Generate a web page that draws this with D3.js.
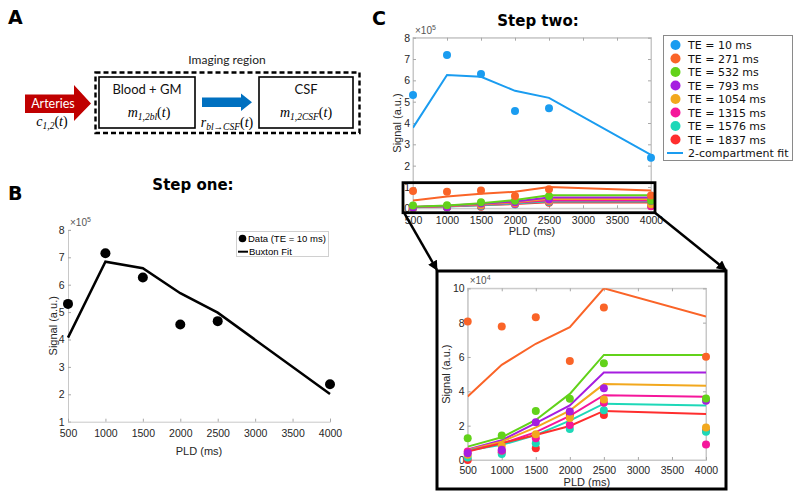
<!DOCTYPE html>
<html><head><meta charset="utf-8">
<script src="https://cdn.jsdelivr.net/npm/d3@7/dist/d3.min.js"></script>
<style>body{margin:0;background:#fff} svg{display:block}</style>
</head><body>
<svg id="c" width="800" height="499"></svg>
<script>
// ---------- DATA ----------
const pld = [500, 1000, 1500, 2000, 2500, 4000];
const xTickValues = [500, 1000, 1500, 2000, 2500, 3000, 3500, 4000];

// Step one (units of 1e5)
const stepOneTicksY = [1, 2, 3, 4, 5, 6, 7, 8];
const stepOneData = [5.30, 7.15, 6.26, 4.55, 4.67, 2.37];
const stepOneFit  = [4.07, 6.84, 6.60, 5.69, 4.98, 2.01];
const stepOneLegend = ["Data (TE = 10 ms)", "Buxton Fit"];

// Step two (units of 1e4)
const teLabels = ["TE = 10 ms", "TE = 271 ms", "TE = 532 ms", "TE = 793 ms",
                  "TE = 1054 ms", "TE = 1315 ms", "TE = 1576 ms", "TE = 1837 ms"];
const fitLabel = "2-compartment fit";
const te10Data   = [53.1, 71.9, 63.0, 45.6, 46.9, 23.7];
const te10Fit    = [37.8, 62.5, 61.7, 55.1, 51.8, 25.0];
const te271Data  = [8.07, 7.77, 8.32, 5.77, 8.88, 6.02];
const te271Fit   = [3.70, 5.54, 6.77, 7.74, 10.0, 8.36];
const te532Data  = [1.26, 1.42, 2.86, 3.56, 5.64, 3.58];
const te532Fit   = [0.78, 1.32, 2.33, 3.85, 6.12, 6.12];
const te793Data  = [0.40, 0.60, 2.20, 2.82, 4.18, 3.45];
const te793Fit   = [0.62, 1.15, 2.15, 3.18, 5.10, 5.10];
const te1054Data = [0.30, 0.83, 1.50, 2.45, 3.52, 1.89];
const te1054Fit  = [0.58, 1.07, 1.90, 2.88, 4.42, 4.33];
const te1315Data = [0.49, 0.54, 1.26, 2.04, 3.34, 0.91];
const te1315Fit  = [0.55, 0.95, 1.62, 2.57, 3.77, 3.69];
const te1576Data = [0.15, 0.35, 0.97, 1.81, 2.90, 1.65];
const te1576Fit  = [0.55, 0.88, 1.45, 2.29, 3.28, 3.17];
const te1837Data = [0.00, 0.45, 0.68, 2.62, 2.62, 1.70];
const te1837Fit  = [0.50, 0.97, 1.46, 1.98, 2.86, 2.68];
const stepTwoData = [te10Data, te271Data, te532Data, te793Data, te1054Data, te1315Data, te1576Data, te1837Data];
const stepTwoFit  = [te10Fit, te271Fit, te532Fit, te793Fit, te1054Fit, te1315Fit, te1576Fit, te1837Fit];
const topTicksY  = [0, 1, 2, 3, 4, 5, 6, 7, 8];   // x1e5
const zoomTicksY = [0, 2, 4, 6, 8, 10];           // x1e4

// ---------- STYLE ----------
const teColors = ["#1a9cf0", "#fa6428", "#62d21a", "#a61ee0", "#f2a81e", "#f5169b", "#1ed8b8", "#ff2e2e"];
const FT = "'Liberation Sans', Arial, sans-serif";
const FV = "'DejaVu Sans', Verdana, sans-serif";
const FC = "Lato, 'Open Sans', sans-serif";
const FM = "'Liberation Serif', 'DejaVu Serif', serif";
const axisGray = "#c8c8c8", textGray = "#262626";

const svg = d3.select("#c");

function panelLetter(t, x, y) {
  svg.append("text").text(t).attr("x", x).attr("y", y)
    .attr("font-family", FV).attr("font-weight", "bold").attr("font-size", 19).attr("fill", "#000");
}
function title(t, x, y) {
  svg.append("text").text(t).attr("x", x).attr("y", y).attr("text-anchor", "middle")
    .attr("font-family", FV).attr("font-weight", "bold").attr("font-size", 15).attr("fill", "#000");
}
function mathText(x, y, base, sub) {
  const t = svg.append("text").attr("x", x).attr("y", y).attr("text-anchor", "middle")
    .attr("font-family", FM).attr("font-size", 14).attr("fill", "#000");
  t.append("tspan").attr("font-style", "italic").text(base);
  t.append("tspan").attr("font-style", "italic").attr("font-size", 9.5).attr("dy", 3).text(sub);
  t.append("tspan").attr("dy", -3).text("(");
  t.append("tspan").attr("font-style", "italic").text("t");
  t.append("tspan").text(")");
}

// ---------- PANEL A ----------
panelLetter("A", 8, 24);
svg.append("text").text("Imaging region").attr("x", 227).attr("y", 64).attr("text-anchor", "middle")
  .attr("font-family", FC).attr("font-size", 12).attr("fill", "#222");
svg.append("rect").attr("x", 95.5).attr("y", 72.5).attr("width", 264).attr("height", 60.5)
  .attr("fill", "none").attr("stroke", "#000").attr("stroke-width", 2.4).attr("stroke-dasharray", "5,3");
svg.append("rect").attr("x", 99).attr("y", 77).attr("width", 96).attr("height", 51)
  .attr("fill", "#fff").attr("stroke", "#000").attr("stroke-width", 1.6);
svg.append("rect").attr("x", 259).attr("y", 77).attr("width", 94).attr("height", 51)
  .attr("fill", "#fff").attr("stroke", "#000").attr("stroke-width", 1.6);
svg.append("text").text("Blood + GM").attr("x", 147).attr("y", 94).attr("text-anchor", "middle")
  .attr("font-family", FC).attr("font-size", 13).attr("fill", "#111");
svg.append("text").text("CSF").attr("x", 306).attr("y", 94).attr("text-anchor", "middle")
  .attr("font-family", FC).attr("font-size", 13).attr("fill", "#111");
mathText(149, 117, "m", "1,2bl");
mathText(306, 117, "m", "1,2CSF");
// arrows
svg.append("polygon").attr("points", "25,94.5 74,94.5 74,85 91,103.5 74,121 74,113 25,113").attr("fill", "#c00000");
svg.append("text").text("Arteries").attr("x", 53).attr("y", 108).attr("text-anchor", "middle")
  .attr("font-family", FC).attr("font-size", 12.5).attr("fill", "#fff");
mathText(52, 126, "c", "1,2");
svg.append("polygon").attr("points", "202,97.5 241,97.5 241,93.5 252,102.3 241,111 241,107 202,107").attr("fill", "#0070c0");
mathText(227, 127, "r", "bl→CSF");

// ---------- AXES HELPER ----------
function drawAxes(g, x, y, yTicks, opt) {
  const [x0, x1] = x.range(), [y0, y1] = y.range();
  if (opt.box) {
    g.append("rect").attr("x", x0).attr("y", y1).attr("width", x1 - x0).attr("height", y0 - y1)
      .attr("fill", "none").attr("stroke", axisGray);
    g.append("g").attr("transform", `translate(0,${y1})`)
      .call(d3.axisTop(x).tickValues(xTickValues).tickSize(-3).tickFormat(() => ""));
    g.append("g").attr("transform", `translate(${x1},0)`)
      .call(d3.axisRight(y).tickValues(yTicks).tickSize(-3).tickFormat(() => ""));
  }
  g.append("g").attr("transform", `translate(${x0},0)`)
    .call(d3.axisLeft(y).tickValues(yTicks).tickSize(-3).tickPadding(opt.yPad).tickFormat(d3.format("d")));
  g.append("g").attr("transform", `translate(0,${y0})`)
    .call(d3.axisBottom(x).tickValues(xTickValues).tickSize(-3).tickPadding(opt.xPad).tickFormat(d3.format("d")));
  g.selectAll(".domain").attr("stroke", axisGray);
  g.selectAll(".tick line").attr("stroke", "#a8a8a8");
  g.selectAll(".tick text").attr("fill", textGray).attr("font-family", FT).attr("font-size", 10.5);
  g.selectAll("g").attr("font-family", FT);
  const e = g.append("text").attr("x", x0 + 2).attr("y", y1 - 4).attr("font-family", FT)
    .attr("font-size", 10).attr("fill", "#555");
  e.append("tspan").text("×10");
  e.append("tspan").attr("font-size", 7).attr("dy", -4).text(opt.exp);
  g.append("text").text("Signal (a.u.)").attr("transform", `translate(${opt.ylx},${(y0 + y1) / 2}) rotate(-90)`)
    .attr("text-anchor", "middle").attr("font-family", FT).attr("font-size", 11).attr("fill", textGray);
  g.append("text").text("PLD (ms)").attr("x", (x0 + x1) / 2).attr("y", opt.xly)
    .attr("text-anchor", "middle").attr("font-family", FT).attr("font-size", 11).attr("fill", textGray);
}

// ---------- PANEL B ----------
panelLetter("B", 8, 200);
title("Step one:", 193, 190);
const xB = d3.scaleLinear().domain([500, 4000]).range([68, 330]);
const yB = d3.scaleLinear().domain([1, 8]).range([421.7, 229.9]);
const gB = svg.append("g");
drawAxes(gB, xB, yB, stepOneTicksY, {box: false, yPad: 3.5, xPad: 7.5, exp: "5", ylx: 57, xly: 455});
const lineB = d3.line().x((d, i) => xB(pld[i])).y(d => yB(d));
gB.append("path").datum(stepOneFit).attr("d", lineB).attr("fill", "none").attr("stroke", "#000").attr("stroke-width", 2.5);
gB.selectAll("circle.pt").data(stepOneData).join("circle").attr("class", "pt")
  .attr("cx", (d, i) => xB(pld[i])).attr("cy", d => yB(d)).attr("r", 5).attr("fill", "#000");
// legend B
const lgB = svg.append("g");
lgB.append("rect").attr("x", 236.5).attr("y", 231.5).attr("width", 92).attr("height", 25)
  .attr("fill", "#fff").attr("stroke", "#d0d0d0");
lgB.append("circle").attr("cx", 242.5).attr("cy", 238.5).attr("r", 3.8).attr("fill", "#000");
lgB.append("text").text(stepOneLegend[0]).attr("x", 248).attr("y", 241.8).attr("font-family", FT).attr("font-size", 9.5).attr("fill", "#000");
lgB.append("line").attr("x1", 238).attr("x2", 248).attr("y1", 251.7).attr("y2", 251.7).attr("stroke", "#000").attr("stroke-width", 2);
lgB.append("text").text(stepOneLegend[1]).attr("x", 249).attr("y", 255).attr("font-family", FT).attr("font-size", 9.5).attr("fill", "#000");

// ---------- PANEL C ----------
panelLetter("C", 372, 25);
title("Step two:", 538, 26);
const xT = d3.scaleLinear().domain([500, 4000]).range([413, 651]);
const yT = d3.scaleLinear().domain([0, 8]).range([208.3, 37.7]);
const xZ = d3.scaleLinear().domain([500, 4000]).range([467.7, 706]);
const yZ = d3.scaleLinear().domain([0, 10]).range([460, 288.3]);

const defs = svg.append("defs");
defs.append("clipPath").attr("id", "clipT").append("rect")
  .attr("x", xT(500)).attr("y", yT(8)).attr("width", xT(4000) - xT(500)).attr("height", yT(0) - yT(8));
defs.append("clipPath").attr("id", "clipZ").append("rect")
  .attr("x", xZ(500)).attr("y", yZ(10)).attr("width", xZ(4000) - xZ(500)).attr("height", yZ(0) - yZ(10));
defs.append("marker").attr("id", "ah").attr("viewBox", "0 0 10 10").attr("refX", 9).attr("refY", 5)
  .attr("markerWidth", 4).attr("markerHeight", 4).attr("orient", "auto")
  .append("path").attr("d", "M0,0 L10,5 L0,10 z").attr("fill", "#000");

// top chart
const gT = svg.append("g");
drawAxes(gT, xT, yT, topTicksY, {box: true, yPad: 3, xPad: 8, exp: "5", ylx: 401, xly: 235});
const lineT = d3.line().x((d, i) => xT(pld[i])).y(d => yT(d / 10));
const gTL = gT.append("g").attr("clip-path", "url(#clipT)");
stepTwoFit.slice().reverse().forEach((s, k) => {
  const i = stepTwoFit.length - 1 - k;
  gTL.append("path").datum(s).attr("d", lineT).attr("fill", "none").attr("stroke", teColors[i]).attr("stroke-width", 2);
});
stepTwoData.slice().reverse().forEach((s, k) => {
  const i = stepTwoData.length - 1 - k;
  gT.append("g").selectAll("circle").data(s).join("circle")
    .attr("cx", (d, j) => xT(pld[j])).attr("cy", d => yT(d / 10)).attr("r", 4).attr("fill", teColors[i]);
});

// zoom rectangle on top chart
const zx0 = xT(500) - 10, zx1 = xT(4000) + 4, zy0 = yT(1) - 4.3, zy1 = yT(0) + 4.4;
svg.append("rect").attr("x", zx0).attr("y", zy0).attr("width", zx1 - zx0).attr("height", zy1 - zy0)
  .attr("fill", "none").attr("stroke", "#000").attr("stroke-width", 2.8);

// legend C
const lgC = svg.append("g");
lgC.append("rect").attr("x", 663.5).attr("y", 35.5).attr("width", 129).attr("height", 125)
  .attr("fill", "#fff").attr("stroke", "#8a8a8a");
teLabels.forEach((t, i) => {
  const yy = 45 + i * 13.5;
  lgC.append("circle").attr("cx", 675.5).attr("cy", yy).attr("r", 5).attr("fill", teColors[i]);
  lgC.append("text").text(t).attr("x", 688).attr("y", yy + 4).attr("font-family", FV).attr("font-size", 11).attr("fill", "#111");
});
lgC.append("line").attr("x1", 667).attr("x2", 683).attr("y1", 45 + 8 * 13.5).attr("y2", 45 + 8 * 13.5)
  .attr("stroke", teColors[0]).attr("stroke-width", 2);
lgC.append("text").text(fitLabel).attr("x", 688).attr("y", 45 + 8 * 13.5 + 4)
  .attr("font-family", FV).attr("font-size", 11).attr("fill", "#111");

// zoomed chart
const bx0 = xZ(500) - 30.7, bx1 = xZ(4000) + 20, by0 = yZ(10) - 17.3, by1 = yZ(0) + 29;
svg.append("rect").attr("x", bx0).attr("y", by0).attr("width", bx1 - bx0).attr("height", by1 - by0)
  .attr("fill", "#fff").attr("stroke", "#000").attr("stroke-width", 3);
const gZ = svg.append("g");
drawAxes(gZ, xZ, yZ, zoomTicksY, {box: true, yPad: 3, xPad: 7, exp: "4", ylx: 450, xly: 486});
const lineZ = d3.line().x((d, i) => xZ(pld[i])).y(d => yZ(d));
const gZL = gZ.append("g").attr("clip-path", "url(#clipZ)");
stepTwoFit.forEach((s, i) => {
  gZL.append("path").datum(s).attr("d", lineZ).attr("fill", "none").attr("stroke", teColors[i]).attr("stroke-width", 2);
});
stepTwoData.slice().reverse().forEach((s, k) => {
  const i = stepTwoData.length - 1 - k;
  gZ.append("g").selectAll("circle").data(s.map((v, j) => ({v, j})).filter(d => d.v <= 10)).join("circle")
    .attr("cx", d => xZ(pld[d.j])).attr("cy", d => yZ(d.v)).attr("r", 4).attr("fill", teColors[i]);
});

// connector arrows
svg.append("line").attr("x1", zx0 + 1).attr("y1", zy1).attr("x2", bx0).attr("y2", by0 - 1)
  .attr("stroke", "#000").attr("stroke-width", 2.5).attr("marker-end", "url(#ah)");
svg.append("line").attr("x1", zx1).attr("y1", zy1).attr("x2", bx1).attr("y2", by0 - 1)
  .attr("stroke", "#000").attr("stroke-width", 2.5).attr("marker-end", "url(#ah)");
</script>
</body></html>
